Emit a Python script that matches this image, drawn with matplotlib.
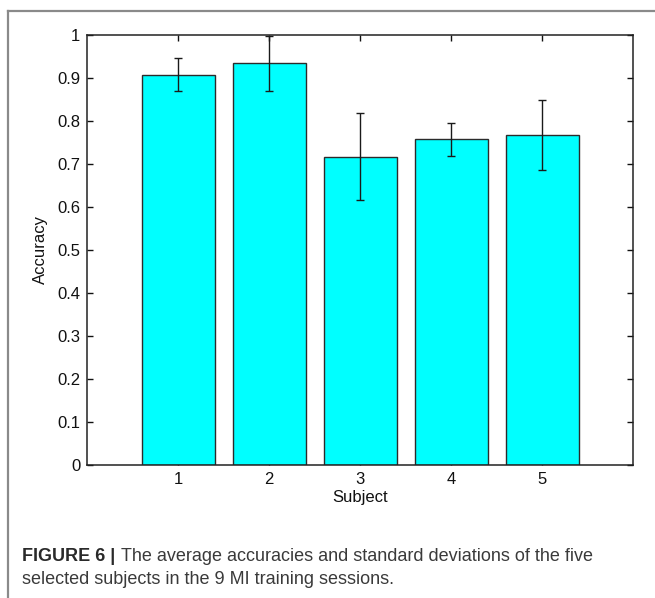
import matplotlib
matplotlib.use("Agg")
import matplotlib.pyplot as plt
from matplotlib.lines import Line2D

subjects = [1, 2, 3, 4, 5]
accuracy_mean = [0.908, 0.934, 0.717, 0.757, 0.768]
accuracy_std = [0.038, 0.064, 0.101, 0.038, 0.081]
yticks = [0, 0.1, 0.2, 0.3, 0.4, 0.5, 0.6, 0.7, 0.8, 0.9, 1]
ytick_labels = ["0", "0.1", "0.2", "0.3", "0.4", "0.5", "0.6", "0.7", "0.8", "0.9", "1"]
caption_bold = "FIGURE 6 | "
caption_line1 = "The average accuracies and standard deviations of the five"
caption_line2 = "selected subjects in the 9 MI training sessions."

plt.rcParams['font.family'] = ['Liberation Sans', 'DejaVu Sans']

W, H = 655, 598
fig = plt.figure(figsize=(W / 100, H / 100), dpi=100)
ax = fig.add_axes([87.3 / W, 1 - 465 / H, (633.3 - 87.3) / W, (465 - 35) / H])

ax.bar(subjects, accuracy_mean, width=0.8, color='#00FFFF', edgecolor='#2b2b2b',
       linewidth=1.0, zorder=2)
ax.errorbar(subjects, accuracy_mean, yerr=accuracy_std, fmt='none', ecolor='#1a1a1a',
            elinewidth=1.0, capsize=3, capthick=1.0, zorder=3)

ax.set_xlim(0, 6)
ax.set_ylim(0, 1)
ax.set_xticks(subjects)
ax.set_xticklabels([str(s) for s in subjects])
ax.set_yticks(yticks)
ax.set_yticklabels(ytick_labels)
ax.tick_params(direction='in', length=4, width=1, top=True, right=True,
               labelsize=12, colors='#111111', pad=5)
for sp in ax.spines.values():
    sp.set_linewidth(1.1)
    sp.set_color('#222222')
ax.set_xlabel("Subject", fontsize=12, labelpad=2, color='#111111')
ax.set_ylabel("Accuracy", fontsize=12, labelpad=7, color='#111111')

# outer frame lines (top and left)
fig.add_artist(Line2D([8 / W, 1], [1 - 11 / H, 1 - 11 / H], color='#8a8a8a', lw=1.6,
                      transform=fig.transFigure))
fig.add_artist(Line2D([8 / W, 8 / W], [0, 1 - 11 / H], color='#8a8a8a', lw=1.6,
                      transform=fig.transFigure))

# caption
x0 = 22.5 / W
y1 = 1 - 561 / H
y2 = 1 - 584 / H
cap_size = 12.93
tb = fig.text(x0, y1, caption_bold, fontsize=cap_size, fontweight='bold', color='#2a2a2a',
              va='baseline', ha='left')
fig.canvas.draw()
bb = tb.get_window_extent(renderer=fig.canvas.get_renderer())
fig.text(bb.x1 / W, y1, caption_line1, fontsize=cap_size, color='#3a3a3a',
         va='baseline', ha='left')
fig.text(x0, y2, caption_line2, fontsize=cap_size, color='#3a3a3a',
         va='baseline', ha='left')

fig.savefig("out.png", dpi=100)
